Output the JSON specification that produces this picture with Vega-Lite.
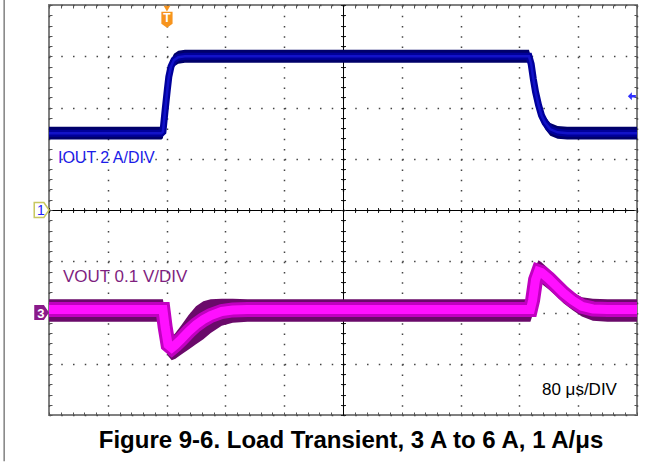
{
  "$schema": "https://vega.github.io/schema/vega-lite/v6.json",
  "width": 588,
  "height": 410,
  "autosize": "none",
  "padding": {"left": 49, "top": 5, "right": 25, "bottom": 50},
  "background": "white",
  "config": {"view": {"stroke": "#808080", "strokeWidth": 2}, "font": "Liberation Sans"},
  "datasets": {
    "iout": [
      {"t": 0, "lo": 2.75, "hi": 3.25, "mid": 3.0},
      {"t": 153, "lo": 2.75, "hi": 3.25, "mid": 3.0},
      {"t": 155, "lo": 2.8, "hi": 3.3, "mid": 3.05},
      {"t": 158, "lo": 3.65, "hi": 4.15, "mid": 3.9},
      {"t": 161, "lo": 4.45, "hi": 4.95, "mid": 4.7},
      {"t": 163, "lo": 4.95, "hi": 5.45, "mid": 5.2},
      {"t": 166, "lo": 5.35, "hi": 5.85, "mid": 5.6},
      {"t": 170, "lo": 5.6, "hi": 6.1, "mid": 5.85},
      {"t": 176, "lo": 5.71, "hi": 6.21, "mid": 5.96},
      {"t": 185, "lo": 5.75, "hi": 6.25, "mid": 6.0},
      {"t": 653, "lo": 5.75, "hi": 6.25, "mid": 6.0},
      {"t": 656, "lo": 5.45, "hi": 5.95, "mid": 5.7},
      {"t": 659, "lo": 4.85, "hi": 5.35, "mid": 5.1},
      {"t": 662, "lo": 4.35, "hi": 4.85, "mid": 4.6},
      {"t": 666, "lo": 3.85, "hi": 4.35, "mid": 4.1},
      {"t": 670, "lo": 3.45, "hi": 3.95, "mid": 3.7},
      {"t": 675, "lo": 3.15, "hi": 3.65, "mid": 3.4},
      {"t": 682, "lo": 2.9, "hi": 3.4, "mid": 3.15},
      {"t": 692, "lo": 2.78, "hi": 3.28, "mid": 3.03},
      {"t": 705, "lo": 2.75, "hi": 3.25, "mid": 3.0},
      {"t": 800, "lo": 2.75, "hi": 3.25, "mid": 3.0}
    ],
    "vout": [
      {"t": 0, "lo": -18, "hi": 26, "mid": 6},
      {"t": 155, "lo": -18, "hi": 26, "mid": 6},
      {"t": 158, "lo": -60, "hi": 0, "mid": -28},
      {"t": 162, "lo": -85, "hi": -45, "mid": -63},
      {"t": 167, "lo": -93, "hi": -48, "mid": -69},
      {"t": 172, "lo": -90, "hi": -40, "mid": -63},
      {"t": 180, "lo": -82, "hi": -25, "mid": -52},
      {"t": 190, "lo": -72, "hi": -5, "mid": -37},
      {"t": 200, "lo": -62, "hi": 12, "mid": -24},
      {"t": 210, "lo": -52, "hi": 22, "mid": -14},
      {"t": 220, "lo": -40, "hi": 26, "mid": -6},
      {"t": 235, "lo": -26, "hi": 27, "mid": 2},
      {"t": 250, "lo": -20, "hi": 27, "mid": 5},
      {"t": 270, "lo": -18, "hi": 26, "mid": 6},
      {"t": 655, "lo": -18, "hi": 26, "mid": 6},
      {"t": 658, "lo": -5, "hi": 50, "mid": 24},
      {"t": 662, "lo": 35, "hi": 90, "mid": 64},
      {"t": 666, "lo": 55, "hi": 102, "mid": 80},
      {"t": 670, "lo": 56, "hi": 98, "mid": 78},
      {"t": 680, "lo": 45, "hi": 85, "mid": 66},
      {"t": 690, "lo": 32, "hi": 70, "mid": 52},
      {"t": 700, "lo": 18, "hi": 55, "mid": 38},
      {"t": 712, "lo": 5, "hi": 40, "mid": 24},
      {"t": 725, "lo": -8, "hi": 30, "mid": 12},
      {"t": 740, "lo": -16, "hi": 27, "mid": 7},
      {"t": 760, "lo": -18, "hi": 26, "mid": 6},
      {"t": 800, "lo": -18, "hi": 26, "mid": 6}
    ]
  },
  "resolve": {"scale": {"y": "independent"}, "axis": {"x": "independent", "y": "independent"}},
  "layer": [
    {
      "data": {"values": [{"t": -61, "top": 4.1, "bottom": -4.9}]},
      "mark": {"type": "rule", "color": "#808080", "strokeWidth": 1.5},
      "encoding": {
        "x": {"field": "t", "type": "quantitative", "scale": {"domain": [0, 800], "nice": false, "zero": false},
          "axis": {"orient": "bottom", "values": [0, 80, 160, 240, 320, 400, 480, 560, 640, 720, 800], "grid": true, "gridDash": [1.5, 8.75], "gridColor": "#444444", "gridWidth": 1.5, "ticks": false, "labels": false, "domain": false, "title": null}},
        "y": {"field": "top", "type": "quantitative", "scale": {"domain": [-4, 4], "nice": false, "zero": false},
          "axis": {"orient": "left", "values": [-4, -3, -2, -1, 0, 1, 2, 3, 4], "grid": true, "gridDash": [1.5, 10.26], "gridColor": "#444444", "gridWidth": 1.5, "ticks": false, "labels": false, "domain": false, "title": null}},
        "y2": {"field": "bottom"}
      }
    },
    {
      "data": {"values": [{"t": 12.2, "div": 1.01, "label": "IOUT 2 A/DIV"}]},
      "mark": {"type": "text", "align": "left", "baseline": "middle", "fontSize": 16, "color": "#1c1ce8"},
      "encoding": {
        "x": {"field": "t", "type": "quantitative", "scale": {"domain": [0, 800], "nice": false, "zero": false},
          "axis": {"orient": "bottom", "offset": -410, "values": [0,16,32,48,64,80,96,112,128,144,160,176,192,208,224,240,256,272,288,304,320,336,352,368,384,400,416,432,448,464,480,496,512,528,544,560,576,592,608,624,640,656,672,688,704,720,736,752,768,784,800], "tickSize": 3, "tickColor": "#555555", "labels": false, "domain": false, "grid": false, "title": null}},
        "y": {"field": "div", "type": "quantitative", "scale": {"domain": [-4, 4], "nice": false, "zero": false},
          "axis": {"orient": "right", "offset": -588, "values": [-4,-3.8,-3.6,-3.4,-3.2,-3,-2.8,-2.6,-2.4,-2.2,-2,-1.8,-1.6,-1.4,-1.2,-1,-0.8,-0.6,-0.4,-0.2,0,0.2,0.4,0.6,0.8,1,1.2,1.4,1.6,1.8,2,2.2,2.4,2.6,2.8,3,3.2,3.4,3.6,3.8,4], "tickSize": 3, "tickColor": "#555555", "labels": false, "domain": false, "grid": false, "title": null}},
        "text": {"field": "label"}
      }
    },
    {
      "data": {"values": [{"t": 19, "div": -1.31, "label": "VOUT 0.1 V/DIV"}]},
      "mark": {"type": "text", "align": "left", "baseline": "middle", "fontSize": 17, "color": "#7f1f7f"},
      "encoding": {
        "x": {"field": "t", "type": "quantitative", "scale": {"domain": [0, 800], "nice": false, "zero": false},
          "axis": {"orient": "top", "offset": -410, "values": [0,16,32,48,64,80,96,112,128,144,160,176,192,208,224,240,256,272,288,304,320,336,352,368,384,400,416,432,448,464,480,496,512,528,544,560,576,592,608,624,640,656,672,688,704,720,736,752,768,784,800], "tickSize": 3, "tickColor": "#555555", "labels": false, "domain": false, "grid": false, "title": null}},
        "y": {"field": "div", "type": "quantitative", "scale": {"domain": [-4, 4], "nice": false, "zero": false},
          "axis": {"orient": "left", "offset": -588, "values": [-4,-3.8,-3.6,-3.4,-3.2,-3,-2.8,-2.6,-2.4,-2.2,-2,-1.8,-1.6,-1.4,-1.2,-1,-0.8,-0.6,-0.4,-0.2,0,0.2,0.4,0.6,0.8,1,1.2,1.4,1.6,1.8,2,2.2,2.4,2.6,2.8,3,3.2,3.4,3.6,3.8,4], "tickSize": 3, "tickColor": "#555555", "labels": false, "domain": false, "grid": false, "title": null}},
        "text": {"field": "label"}
      }
    },
    {
      "data": {"values": [{"t": 670.7, "div": -3.51, "label": "80 μs/DIV"}]},
      "mark": {"type": "text", "align": "left", "baseline": "middle", "fontSize": 17, "color": "#000000"},
      "encoding": {
        "x": {"field": "t", "type": "quantitative", "scale": {"domain": [0, 800], "nice": false, "zero": false},
          "axis": {"orient": "bottom", "offset": -205, "values": [0,16,32,48,64,80,96,112,128,144,160,176,192,208,224,240,256,272,288,304,320,336,352,368,384,400,416,432,448,464,480,496,512,528,544,560,576,592,608,624,640,656,672,688,704,720,736,752,768,784,800], "tickSize": 2.5, "tickColor": "#222222", "labels": false, "domain": true, "domainColor": "#000000", "domainWidth": 1, "grid": false, "title": null}},
        "y": {"field": "div", "type": "quantitative", "scale": {"domain": [-4, 4], "nice": false, "zero": false},
          "axis": {"orient": "left", "offset": -294, "values": [-4,-3.8,-3.6,-3.4,-3.2,-3,-2.8,-2.6,-2.4,-2.2,-2,-1.8,-1.6,-1.4,-1.2,-1,-0.8,-0.6,-0.4,-0.2,0,0.2,0.4,0.6,0.8,1,1.2,1.4,1.6,1.8,2,2.2,2.4,2.6,2.8,3,3.2,3.4,3.6,3.8,4], "tickSize": 2.5, "tickColor": "#222222", "labels": false, "domain": true, "domainColor": "#000000", "domainWidth": 1, "grid": false, "title": null}},
        "text": {"field": "label"}
      }
    },
    {
      "data": {"values": [{"t": 410.9, "div": -4.51, "label": "Figure 9-6. Load Transient, 3 A to 6 A, 1 A/μs"}]},
      "mark": {"type": "text", "align": "center", "baseline": "middle", "fontSize": 24, "fontWeight": "bold", "color": "#000000"},
      "encoding": {
        "x": {"field": "t", "type": "quantitative", "scale": {"domain": [0, 800], "nice": false, "zero": false},
          "axis": {"orient": "top", "offset": -205, "values": [0,16,32,48,64,80,96,112,128,144,160,176,192,208,224,240,256,272,288,304,320,336,352,368,384,400,416,432,448,464,480,496,512,528,544,560,576,592,608,624,640,656,672,688,704,720,736,752,768,784,800], "tickSize": 2.5, "tickColor": "#222222", "labels": false, "domain": true, "domainColor": "#000000", "domainWidth": 1, "grid": false, "title": null}},
        "y": {"field": "div", "type": "quantitative", "scale": {"domain": [-4, 4], "nice": false, "zero": false},
          "axis": {"orient": "right", "offset": -294, "values": [-4,-3.8,-3.6,-3.4,-3.2,-3,-2.8,-2.6,-2.4,-2.2,-2,-1.8,-1.6,-1.4,-1.2,-1,-0.8,-0.6,-0.4,-0.2,0,0.2,0.4,0.6,0.8,1,1.2,1.4,1.6,1.8,2,2.2,2.4,2.6,2.8,3,3.2,3.4,3.6,3.8,4], "tickSize": 2.5, "tickColor": "#222222", "labels": false, "domain": true, "domainColor": "#000000", "domainWidth": 1, "grid": false, "title": null}},
        "text": {"field": "label"}
      }
    },
    {
      "data": {"name": "iout"},
      "mark": {"type": "area", "color": "#00006a"},
      "encoding": {
        "x": {"field": "t", "type": "quantitative", "scale": {"domain": [0, 800], "nice": false, "zero": false}, "axis": null},
        "y": {"field": "lo", "type": "quantitative", "scale": {"domain": [-8, 8], "nice": false, "zero": false}, "axis": null},
        "y2": {"field": "hi"}
      }
    },
    {
      "data": {"name": "iout"},
      "mark": {"type": "line", "color": "#00009a", "strokeWidth": 7},
      "encoding": {
        "x": {"field": "t", "type": "quantitative", "scale": {"domain": [0, 800], "nice": false, "zero": false}, "axis": null},
        "y": {"field": "mid", "type": "quantitative", "scale": {"domain": [-8, 8], "nice": false, "zero": false}, "axis": null}
      }
    },
    {
      "data": {"name": "iout"},
      "mark": {"type": "line", "color": "#1212c8", "strokeWidth": 2.5},
      "encoding": {
        "x": {"field": "t", "type": "quantitative", "scale": {"domain": [0, 800], "nice": false, "zero": false}, "axis": null},
        "y": {"field": "mid", "type": "quantitative", "scale": {"domain": [-8, 8], "nice": false, "zero": false}, "axis": null}
      }
    },
    {
      "data": {"name": "vout"},
      "mark": {"type": "area", "color": "#6a0a6a"},
      "encoding": {
        "x": {"field": "t", "type": "quantitative", "scale": {"domain": [0, 800], "nice": false, "zero": false}, "axis": null},
        "y": {"field": "lo", "type": "quantitative", "scale": {"domain": [-200, 600], "nice": false, "zero": false}, "axis": null},
        "y2": {"field": "hi"}
      }
    },
    {
      "data": {"name": "vout"},
      "mark": {"type": "line", "color": "#c000c0", "strokeWidth": 15},
      "encoding": {
        "x": {"field": "t", "type": "quantitative", "scale": {"domain": [0, 800], "nice": false, "zero": false}, "axis": null},
        "y": {"field": "mid", "type": "quantitative", "scale": {"domain": [-200, 600], "nice": false, "zero": false}, "axis": null}
      }
    },
    {
      "data": {"name": "vout"},
      "mark": {"type": "line", "color": "#ff10ff", "strokeWidth": 9},
      "encoding": {
        "x": {"field": "t", "type": "quantitative", "scale": {"domain": [0, 800], "nice": false, "zero": false}, "axis": null},
        "y": {"field": "mid", "type": "quantitative", "scale": {"domain": [-200, 600], "nice": false, "zero": false}, "axis": null}
      }
    },
    {
      "data": {"values": [{"t": -10, "div": 0}]},
      "mark": {"type": "point", "shape": "M-1,-1L0.3,-1L1,0L0.3,1L-1,1Z", "size": 220, "filled": true, "fill": "#ffffff", "stroke": "#c8c860", "strokeWidth": 1.5, "opacity": 1},
      "encoding": {
        "x": {"field": "t", "type": "quantitative", "scale": {"domain": [0, 800], "nice": false, "zero": false}, "axis": null},
        "y": {"field": "div", "type": "quantitative", "scale": {"domain": [-4, 4], "nice": false, "zero": false}, "axis": null}
      }
    },
    {
      "data": {"values": [{"t": -11, "div": -0.02, "label": "1"}]},
      "mark": {"type": "text", "align": "center", "baseline": "middle", "fontSize": 14, "color": "#2020ff"},
      "encoding": {
        "x": {"field": "t", "type": "quantitative", "scale": {"domain": [0, 800], "nice": false, "zero": false}, "axis": null},
        "y": {"field": "div", "type": "quantitative", "scale": {"domain": [-4, 4], "nice": false, "zero": false}, "axis": null},
        "text": {"field": "label"}
      }
    },
    {
      "data": {"values": [{"t": -10, "div": -2}]},
      "mark": {"type": "point", "shape": "M-1,-1L0.3,-1L1,0L0.3,1L-1,1Z", "size": 220, "filled": true, "fill": "#8a1a8a", "strokeWidth": 0, "opacity": 1},
      "encoding": {
        "x": {"field": "t", "type": "quantitative", "scale": {"domain": [0, 800], "nice": false, "zero": false}, "axis": null},
        "y": {"field": "div", "type": "quantitative", "scale": {"domain": [-4, 4], "nice": false, "zero": false}, "axis": null}
      }
    },
    {
      "data": {"values": [{"t": -11, "div": -2.02, "label": "3"}]},
      "mark": {"type": "text", "align": "center", "baseline": "middle", "fontSize": 13, "fontWeight": "bold", "color": "#ffffff"},
      "encoding": {
        "x": {"field": "t", "type": "quantitative", "scale": {"domain": [0, 800], "nice": false, "zero": false}, "axis": null},
        "y": {"field": "div", "type": "quantitative", "scale": {"domain": [-4, 4], "nice": false, "zero": false}, "axis": null},
        "text": {"field": "label"}
      }
    },
    {
      "data": {"values": [{"t": 160.5, "div": 3.93}]},
      "mark": {"type": "point", "shape": "triangle-down", "size": 45, "filled": true, "fill": "#f7941d", "strokeWidth": 0, "opacity": 1},
      "encoding": {
        "x": {"field": "t", "type": "quantitative", "scale": {"domain": [0, 800], "nice": false, "zero": false}, "axis": null},
        "y": {"field": "div", "type": "quantitative", "scale": {"domain": [-4, 4], "nice": false, "zero": false}, "axis": null}
      }
    },
    {
      "data": {"values": [{"t": 160.5, "div": 3.71}]},
      "mark": {"type": "point", "shape": "M-0.7,-1L0.7,-1L0.7,0.5L0,1L-0.7,0.5Z", "size": 256, "filled": true, "fill": "#f7941d", "strokeWidth": 0, "opacity": 1},
      "encoding": {
        "x": {"field": "t", "type": "quantitative", "scale": {"domain": [0, 800], "nice": false, "zero": false}, "axis": null},
        "y": {"field": "div", "type": "quantitative", "scale": {"domain": [-4, 4], "nice": false, "zero": false}, "axis": null}
      }
    },
    {
      "data": {"values": [{"t": 160.5, "div": 3.74, "label": "T"}]},
      "mark": {"type": "text", "align": "center", "baseline": "middle", "fontSize": 12, "fontWeight": "bold", "color": "#ffffff"},
      "encoding": {
        "x": {"field": "t", "type": "quantitative", "scale": {"domain": [0, 800], "nice": false, "zero": false}, "axis": null},
        "y": {"field": "div", "type": "quantitative", "scale": {"domain": [-4, 4], "nice": false, "zero": false}, "axis": null},
        "text": {"field": "label"}
      }
    },
    {
      "data": {"values": [{"t": 793, "div": 2.22}]},
      "mark": {"type": "point", "shape": "M-1,0L0,-1L0,-0.3L1,-0.3L1,0.3L0,0.3L0,1Z", "size": 64, "filled": true, "fill": "#3030ff", "strokeWidth": 0, "opacity": 1},
      "encoding": {
        "x": {"field": "t", "type": "quantitative", "scale": {"domain": [0, 800], "nice": false, "zero": false}, "axis": null},
        "y": {"field": "div", "type": "quantitative", "scale": {"domain": [-4, 4], "nice": false, "zero": false}, "axis": null}
      }
    }
  ]
}
